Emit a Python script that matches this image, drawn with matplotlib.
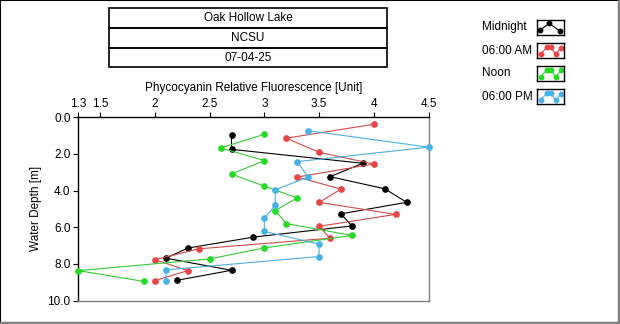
import matplotlib
matplotlib.use("Agg")
import matplotlib.pyplot as plt
from matplotlib.patches import Rectangle
from matplotlib.lines import Line2D

# readings per sampling time: fluorescence [unit] vs depth [m]
midnight_x = [2.7, 2.7, 3.9, 3.6, 4.1, 4.3, 3.7, 3.8, 2.9, 2.3, 2.1, 2.7, 2.2]
midnight_d = [0.97, 1.75, 2.51, 3.24, 3.90, 4.64, 5.27, 5.93, 6.54, 7.14, 7.69, 8.35, 8.90]

am6_x = [4.0, 3.2, 3.5, 4.0, 3.3, 3.7, 3.5, 4.2, 3.5, 3.6, 2.4, 2.0, 2.3, 2.0]
am6_d = [0.38, 1.14, 1.91, 2.55, 3.26, 3.92, 4.64, 5.30, 5.95, 6.60, 7.18, 7.77, 8.37, 8.92]

noon_x = [3.0, 2.6, 3.0, 2.7, 3.0, 3.3, 3.1, 3.2, 3.8, 3.0, 2.5, 1.3, 1.9]
noon_d = [0.93, 1.67, 2.36, 3.10, 3.76, 4.40, 5.09, 5.80, 6.45, 7.13, 7.73, 8.37, 8.96]

pm6_x = [3.4, 4.5, 3.3, 3.4, 3.1, 3.1, 3.0, 3.0, 3.5, 3.5, 2.1, 2.1]
pm6_d = [0.73, 1.63, 2.42, 3.26, 3.96, 4.80, 5.52, 6.23, 6.92, 7.60, 8.33, 8.94]

x_ticks = [1.3, 1.5, 2, 2.5, 3, 3.5, 4, 4.5]
x_labels = ["1.3", "1.5", "2", "2.5", "3", "3.5", "4", "4.5"]
y_ticks = [0, 2, 4, 6, 8, 10]

title_rows = ["Oak Hollow Lake", "NCSU", "07-04-25"]
series_names = ["Midnight", "06:00 AM", "Noon", "06:00 PM"]
line_cols = ["#000000", "#d04a4a", "#33cc33", "#4aaee0"]
mark_cols = ["#000000", "#e84545", "#22dd22", "#45b2ea"]

plt.rcParams.update({
    "font.family": ["Liberation Sans", "DejaVu Sans"],
    "font.size": 8,
})

W, H = 620, 324
fig = plt.figure(figsize=(W / 100, H / 100), dpi=100)


def fx(px):
    return px / W


def fy(py):
    return 1 - py / H


ax = fig.add_axes([fx(78.3), fy(300.5), fx(428.5 - 78.3), (300.5 - 117.3) / H])

data = [(midnight_x, midnight_d), (am6_x, am6_d), (noon_x, noon_d), (pm6_x, pm6_d)]
for (xs, ds), lc, mc, name in zip(data, line_cols, mark_cols, series_names):
    ax.plot(xs, ds, color=lc, lw=0.8, marker="o", ms=3.8, mfc=mc, mec=mc,
            label=name, clip_on=False, zorder=3)

ax.set_xlim(1.3, 4.5)
ax.set_ylim(10, 0)
ax.xaxis.tick_top()
ax.xaxis.set_label_position("top")
ax.set_xticks(x_ticks)
ax.set_xticklabels(x_labels)
ax.set_yticks(y_ticks)
ax.set_yticklabels([f"{v:.1f}" for v in y_ticks])
ax.tick_params(length=3.5, width=0.8, pad=2, labelsize=8.5)
ax.set_xlabel("Phycocyanin Relative Fluorescence [Unit]", fontsize=8.5, labelpad=5)
ax.set_ylabel("Water Depth [m]", fontsize=8.5, labelpad=4)
for side, col in [("top", "black"), ("left", "black"), ("right", "#808080"), ("bottom", "#808080")]:
    ax.spines[side].set_color(col)
    ax.spines[side].set_linewidth(1.0)

# stacked title boxes
rows_y = [8.3, 28.3, 48.3, 67.3]
for i, txt in enumerate(title_rows):
    y0, y1 = rows_y[i], rows_y[i + 1]
    fig.patches.append(Rectangle((fx(109), fy(y1)), fx(387 - 109), (y1 - y0) / H,
                                 transform=fig.transFigure, fill=False,
                                 ec="black", lw=1.2))
    fig.text(fx(248), fy((y0 + y1) / 2), txt, ha="center", va="center", fontsize=8.5)

# legend: label + small icon box per series
leg_y = [27.3, 50.7, 73.3, 96.7]
zig = ([0.12, 0.35, 0.5, 0.7, 0.9], [0.2, 0.75, 0.75, 0.2, 0.72])
icon_pts = [([0.1, 0.45, 0.85], [0.25, 0.8, 0.2]), zig, zig, zig]
for name, yc, lc, mc, (ix, iy) in zip(series_names, leg_y, line_cols, mark_cols, icon_pts):
    fig.text(fx(482), fy(yc), name, ha="left", va="center", fontsize=8.5)
    iax = fig.add_axes([fx(537), fy(yc + 7.5), fx(27), 15 / H])
    iax.plot(ix, iy, color=lc, lw=0.8, marker="o", ms=3.2, mfc=mc, mec=mc)
    iax.set_xlim(-0.02, 1.02)
    iax.set_ylim(-0.12, 1.08)
    iax.set_xticks([])
    iax.set_yticks([])
    for sp in iax.spines.values():
        sp.set_linewidth(1.0)

# outer panel frame
fig.lines.append(Line2D([0, 0, 1], [0, 1, 1], transform=fig.transFigure,
                        color="black", lw=1.5))
fig.lines.append(Line2D([0, 1, 1], [fy(322.5), fy(322.5), 1], transform=fig.transFigure,
                        color="#808080", lw=2.5))
fig.lines.append(Line2D([fx(618.5), fx(618.5)], [0, 1], transform=fig.transFigure,
                        color="#808080", lw=2.5))

fig.savefig("out.png", dpi=100)
